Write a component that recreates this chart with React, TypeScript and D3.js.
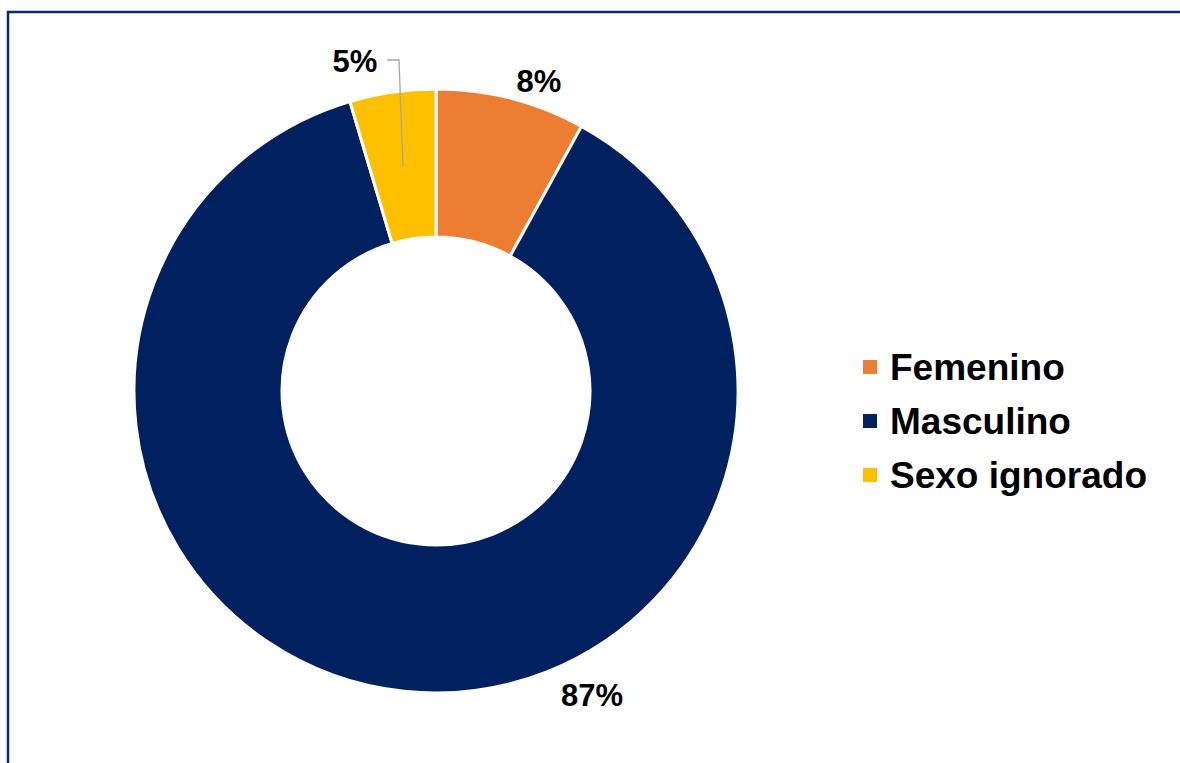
import React from "react";
import * as d3 from "d3";

const categories = ["Femenino", "Masculino", "Sexo ignorado"];
const values = [8.0, 87.4, 4.6];
const colors = ["#ED7D31", "#002060", "#FFC000"];

const W = 1180;
const H = 763;
const FONT = "'Liberation Sans', Arial, sans-serif";

export default function App() {
  const cx = 436;
  const cy = 391;
  const outerR = 302;
  const innerR = 154;

  const pie = d3.pie<number>().sort(null).value((d) => d).startAngle(0).endAngle(2 * Math.PI);
  const arcs = pie(values);
  const arcGen = d3.arc<d3.PieArcDatum<number>>().innerRadius(innerR).outerRadius(outerR);
  const total = d3.sum(values);
  const fmt = (v: number) => `${Math.round((v / total) * 100)}%`;

  // label anchors (relative to donut centre), Excel best-fit placement
  const labelPos = [
    { dx: 103, dy: -299 },
    { dx: 156, dy: 315 },
    { dx: -81, dy: -319 },
  ];

  const legendX = 863;
  const legendY0 = 367;
  const legendStep = 54;

  return (
    <svg
      width={W}
      height={H}
      style={{ position: "fixed", left: 0, top: 0, background: "#fff" }}
    >
      <rect x={8} y={12} width={1300} height={900} fill="#fff" stroke="#0B2A6B" strokeWidth={2.5} />
      <g transform={`translate(${cx},${cy})`}>
        {arcs.map((a, i) => (
          <path key={i} d={arcGen(a) || ""} fill={colors[i]} stroke="#fff" strokeWidth={3} />
        ))}
        {/* leader line for small slice */}
        <polyline
          points={`${-49},${-331} ${-37},${-331} ${-33},${-224}`}
          fill="none"
          stroke="#A6A6A6"
          strokeWidth={1.3}
        />
        {arcs.map((a, i) => (
          <text
            key={i}
            x={labelPos[i].dx}
            y={labelPos[i].dy}
            textAnchor="middle"
            fontFamily={FONT}
            fontWeight="bold"
            fontSize={31}
            fill="#000"
          >
            {fmt(a.data)}
          </text>
        ))}
      </g>
      <g>
        {categories.map((c, i) => (
          <g key={c} transform={`translate(${legendX},${legendY0 + i * legendStep})`}>
            <rect x={0} y={-7} width={14} height={14} fill={colors[i]} />
            <text x={27} y={12.5} fontFamily={FONT} fontWeight="bold" fontSize={37} fill="#000">
              {c}
            </text>
          </g>
        ))}
      </g>
    </svg>
  );
}
